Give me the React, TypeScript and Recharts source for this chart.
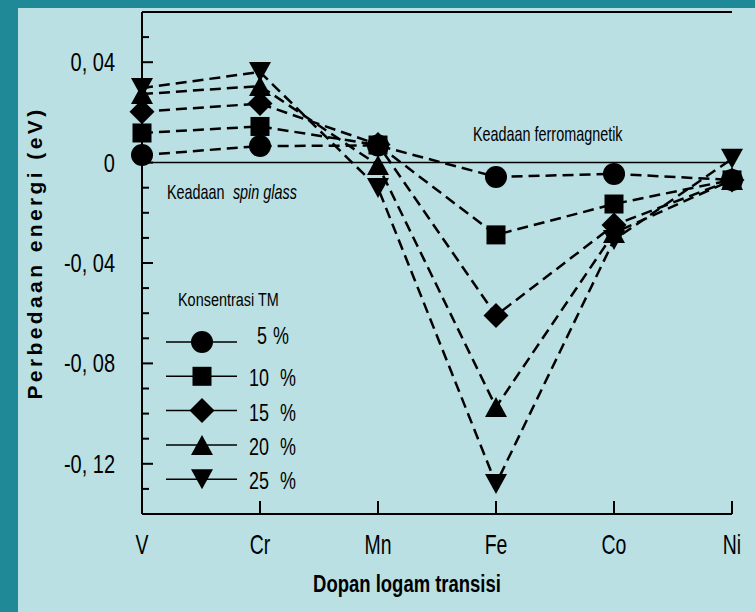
import { LineChart, Line, XAxis, YAxis, ReferenceLine, Legend } from 'recharts'

// categories (transition-metal dopants) and energy difference per TM concentration, eV
const CATEGORIES = ['V', 'Cr', 'Mn', 'Fe', 'Co', 'Ni']
const TM5 = [0.003, 0.0066, 0.0068, -0.0057, -0.0045, -0.0069]
const TM10 = [0.0118, 0.0144, 0.007, -0.0288, -0.0165, -0.0069]
const TM15 = [0.0203, 0.0235, 0.0072, -0.0609, -0.0249, -0.0069]
const TM20 = [0.0273, 0.0305, -0.001, -0.0974, -0.028, -0.0069]
const TM25 = [0.0297, 0.0361, -0.0101, -0.128, -0.0308, 0.0015]

const Y_TICKS = [
  -0.14, -0.13, -0.12, -0.11, -0.1, -0.09, -0.08, -0.07, -0.06, -0.05, -0.04,
  -0.03, -0.02, -0.01, 0, 0.01, 0.02, 0.03, 0.04, 0.05, 0.06,
]
const Y_LABELS: Record<string, string> = {
  '0.04': '0, 04',
  '0': '0',
  '-0.04': '-0, 04',
  '-0.08': '-0, 08',
  '-0.12': '-0, 12',
}

const SERIES = [
  { key: 'tm5', name: '5', shape: 'circle', values: TM5 },
  { key: 'tm10', name: '10', shape: 'square', values: TM10 },
  { key: 'tm15', name: '15', shape: 'diamond', values: TM15 },
  { key: 'tm20', name: '20', shape: 'up', values: TM20 },
  { key: 'tm25', name: '25', shape: 'down', values: TM25 },
]

const data = CATEGORIES.map((cat, i) => {
  const row: Record<string, string | number> = { cat }
  SERIES.forEach(s => { row[s.key] = s.values[i] })
  return row
})

const FONT = "'Liberation Sans', Arial, Helvetica, sans-serif"
const INK = '#000'

// Arial squeezed horizontally, to stand in for the condensed face of the original
function NText({ x, y, size, sx = 0.78, anchor = 'start', bold = false, children }: any) {
  return (
    <text
      transform={`translate(${x}, ${y}) scale(${sx}, 1)`}
      textAnchor={anchor}
      fontSize={size}
      fontWeight={bold ? 'bold' : 'normal'}
      fontFamily={FONT}
      fill={INK}
    >
      {children}
    </text>
  )
}

function Marker({ cx, cy, shape }: { cx: number; cy: number; shape: string }) {
  if (cx == null || cy == null) return null
  switch (shape) {
    case 'circle':
      return <circle cx={cx} cy={cy} r={11} fill={INK} />
    case 'square':
      return <rect x={cx - 9.5} y={cy - 9.5} width={19} height={19} fill={INK} />
    case 'diamond':
      return <polygon points={`${cx},${cy - 12.5} ${cx + 12.5},${cy} ${cx},${cy + 12.5} ${cx - 12.5},${cy}`} fill={INK} />
    case 'up':
      return <polygon points={`${cx},${cy - 10} ${cx + 11},${cy + 10} ${cx - 11},${cy + 10}`} fill={INK} />
    default:
      return <polygon points={`${cx - 11},${cy - 10} ${cx + 11},${cy - 10} ${cx},${cy + 10}`} fill={INK} />
  }
}

function LeftTick({ x, y, payload }: any) {
  const label = Y_LABELS[String(payload.value)]
  const major = label !== undefined
  return (
    <g>
      <line x1={x} x2={x + (major ? 11 : 7)} y1={y} y2={y} stroke={INK} strokeWidth={2} />
      {major && (
        <NText x={x - 27} y={y + 9} size={25} sx={0.8} anchor="end">
          {label}
        </NText>
      )}
    </g>
  )
}

function RightTick({ x, y, payload }: any) {
  const major = Y_LABELS[String(payload.value)] !== undefined
  return <line x1={x} x2={x - (major ? 11 : 7)} y1={y} y2={y} stroke={INK} strokeWidth={2} />
}

function BottomTick({ x, y, payload }: any) {
  return (
    <g>
      <line x1={x} x2={x} y1={y} y2={y - 13} stroke={INK} strokeWidth={2} />
      <NText x={x} y={y + 40} size={27} sx={0.72} anchor="middle">
        {payload.value}
      </NText>
    </g>
  )
}

function YTitle({ viewBox }: any) {
  const cy = viewBox.y + viewBox.height / 2 - 10
  return (
    <text
      transform={`translate(42, ${cy}) rotate(-90)`}
      textAnchor="middle"
      fontSize={21}
      fontWeight="bold"
      letterSpacing={3.4}
      fontFamily={FONT}
      fill={INK}
    >
      Perbedaan energi (eV)
    </text>
  )
}

function XTitle({ viewBox }: any) {
  return (
    <NText x={viewBox.x + viewBox.width / 2 - 30} y={viewBox.y + 78} size={24} sx={0.77} anchor="middle" bold>
      Dopan logam transisi
    </NText>
  )
}

function ZeroNotes({ viewBox }: any) {
  const { x, y } = viewBox
  return (
    <g>
      <NText x={x + 331} y={y - 22} size={20} sx={0.72}>Keadaan ferromagnetik</NText>
      <NText x={x + 25} y={y + 36} size={20} sx={0.72}>
        Keadaan <tspan dx={6} fontStyle="italic">spin glass</tspan>
      </NText>
    </g>
  )
}

function TMLegend({ payload }: any) {
  const shown = new Set((payload || []).map((p: any) => p.dataKey))
  return (
    <svg width={755} height={612} style={{ position: 'absolute', left: 0, top: 0 }}>
      <NText x={178} y={306} size={19} sx={0.76}>Konsentrasi TM</NText>
      {SERIES.filter(s => shown.has(s.key)).map((s, i) => {
        const y = 342 + i * 34.3
        const ty = y + (i === 0 ? 2 : 10)
        return (
          <g key={s.key}>
            <line x1={166} x2={237} y1={y} y2={y} stroke={INK} strokeWidth={1.5} />
            <Marker cx={202} cy={y} shape={s.shape} />
            <NText x={i === 0 ? 267 : 269} y={ty} size={23} sx={0.78} anchor="end">{s.name}</NText>
            <NText x={i === 0 ? 273 : 280} y={ty} size={23} sx={0.78}>%</NText>
          </g>
        )
      })}
    </svg>
  )
}

export default function App() {
  return (
    <div style={{ position: 'absolute', left: 0, top: 0, width: 755, height: 612, background: '#1f8998', overflow: 'hidden' }}>
      <div style={{ position: 'absolute', left: 18, top: 8, width: 737, height: 604, background: '#bae0e3' }} />
      <div style={{ position: 'absolute', left: 0, top: 0 }}>
        <LineChart width={755} height={612} data={data} margin={{ top: 12, right: 23, bottom: 0, left: 0 }}>
          <XAxis
            dataKey="cat"
            height={98}
            interval={0}
            tickSize={0}
            tickMargin={0}
            tickLine={false}
            axisLine={{ stroke: INK, strokeWidth: 2 }}
            tick={<BottomTick />}
            label={XTitle}
          />
          <YAxis
            type="number"
            width={142}
            domain={[-0.14, 0.06]}
            ticks={Y_TICKS}
            interval={0}
            tickSize={0}
            tickMargin={0}
            tickLine={false}
            axisLine={{ stroke: INK, strokeWidth: 2 }}
            tick={<LeftTick />}
            label={YTitle}
          />
          <YAxis
            yAxisId="right"
            orientation="right"
            type="number"
            width={0}
            domain={[-0.14, 0.06]}
            ticks={Y_TICKS}
            interval={0}
            tickSize={0}
            tickMargin={0}
            tickLine={false}
            axisLine={{ stroke: INK, strokeWidth: 2 }}
            tick={<RightTick />}
          />
          <ReferenceLine y={0.06} stroke={INK} strokeWidth={2} />
          <ReferenceLine y={0} stroke={INK} strokeWidth={1.5} label={ZeroNotes} />
          {SERIES.map(s => (
            <Line
              key={s.key}
              dataKey={s.key}
              name={s.name}
              type="linear"
              stroke={INK}
              strokeWidth={2.5}
              strokeDasharray="11 6"
              dot={(props: any) => <Marker key={`${s.key}-${props.index}`} cx={props.cx} cy={props.cy} shape={s.shape} />}
              activeDot={false}
              isAnimationActive={false}
            />
          ))}
          <Legend
            layout="vertical"
            align="center"
            verticalAlign="middle"
            content={<TMLegend />}
            wrapperStyle={{ position: 'absolute', left: 0, top: 0, width: 755, height: 612, pointerEvents: 'none' }}
          />
        </LineChart>
      </div>
    </div>
  )
}
